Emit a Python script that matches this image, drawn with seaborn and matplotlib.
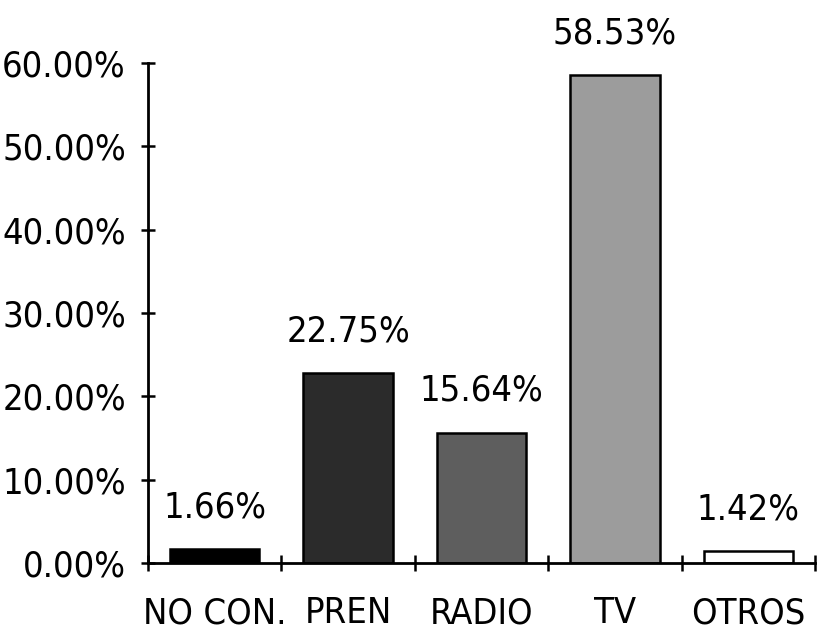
import matplotlib
matplotlib.use("Agg")
import matplotlib.pyplot as plt
import seaborn as sns
import pandas as pd
from matplotlib.ticker import FuncFormatter, FixedLocator

categories = ["NO CON.", "PREN", "RADIO", "TV", "OTROS"]
values = [1.66, 22.75, 15.64, 58.53, 1.42]
value_labels = ["1.66%", "22.75%", "15.64%", "58.53%", "1.42%"]
bar_colors = ["#000000", "#2b2b2b", "#5e5e5e", "#9c9c9c", "#ffffff"]
y_ticks = [0, 10, 20, 30, 40, 50, 60]

sns.set_theme(style="white")
plt.rcParams["font.family"] = ["DejaVu Sans"]
plt.rcParams["font.stretch"] = "condensed"

df = pd.DataFrame({"cat": categories, "val": values})

fig = plt.figure(figsize=(8.22, 6.4), dpi=100)
ax = fig.add_axes([148 / 822, 77 / 640, (815 - 148) / 822, 500 / 640])

sns.barplot(data=df, x="cat", y="val", hue="cat", palette=bar_colors,
            legend=False, width=0.67, edgecolor="black", linewidth=1.8,
            saturation=1, ax=ax)

ax.set_xlim(-0.5, 4.5)
ax.set_ylim(0, 60)
ax.set_xlabel("")
ax.set_ylabel("")

for spine in ["top", "right"]:
    ax.spines[spine].set_visible(False)
for spine in ["left", "bottom"]:
    ax.spines[spine].set_linewidth(2)
    ax.spines[spine].set_color("black")
ax.spines["left"].set_bounds(0, 60)

fs = 26
ax.yaxis.set_major_locator(FixedLocator(y_ticks))
ax.yaxis.set_major_formatter(FuncFormatter(lambda v, p: f"{v:.2f}%"))
ax.tick_params(axis="y", direction="inout", length=10, width=1.8,
               labelsize=fs, pad=11, colors="black", left=True)

ax.set_xticks(range(len(categories)))
ax.set_xticklabels(categories)
ax.tick_params(axis="x", which="major", length=0, labelsize=fs, pad=24,
               colors="black")
ax.set_xticks([i - 0.5 for i in range(len(categories) + 1)], minor=True)
ax.tick_params(axis="x", which="minor", direction="inout", length=12,
               width=1.8, bottom=True, colors="black")

for i, (v, lab) in enumerate(zip(values, value_labels)):
    ax.annotate(lab, xy=(i, v), xytext=(0, 18), textcoords="offset points",
                ha="center", va="bottom", fontsize=fs, color="black",
                annotation_clip=False)

fig.savefig("out.png", dpi=100)
